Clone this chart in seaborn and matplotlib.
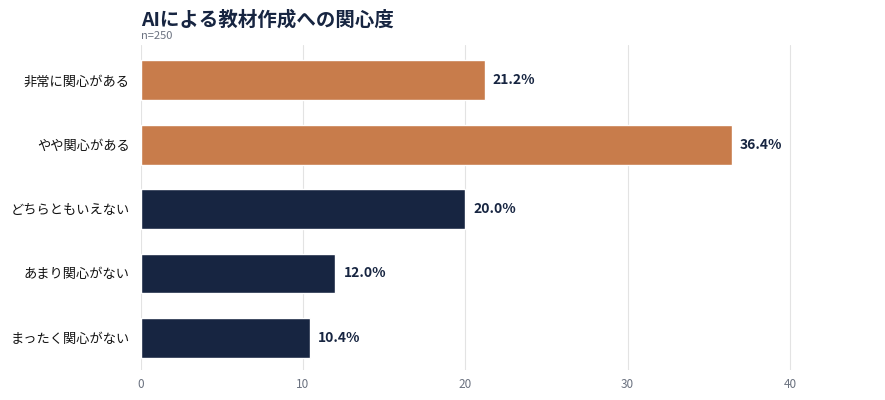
import pandas as pd
import matplotlib.pyplot as plt
import seaborn as sns

categories = ['非常に関心がある', 'やや関心がある', 'どちらともいえない', 'あまり関心がない', 'まったく関心がない']
values = [21.2, 36.4, 20.0, 12.0, 10.4]
bar_colors = ['#C87C4B', '#C87C4B', '#172541', '#172541', '#172541']

dati = pd.DataFrame({'category': categories, 'value': values})

sns.set_theme(style='white')
plt.rcParams['font.family'] = ['Noto Sans CJK JP', 'DejaVu Sans']

fig = plt.figure(figsize=(8.85, 4), dpi=100)
ax = fig.add_axes([0.159, 0.075, 0.818, 0.8125])

sns.barplot(data=dati, x='value', y='category', hue='category', palette=bar_colors,
            legend=False, width=0.62, saturation=1, ax=ax, zorder=3)

# etichette sulle barre
for i, v in enumerate(values):
    ax.text(v + 0.5, i, f'{v:.1f}%', va='center', ha='left', fontsize=10,
            fontweight='bold', color='#172541')

ax.set_xlim(0, 44.6)
ax.set_ylim(4.5, -0.55)
ax.set_xticks([0, 10, 20, 30, 40])
ax.grid(axis='x', color='#E3E3E3', linewidth=0.8, zorder=0)
ax.set_axisbelow(True)
for s in ax.spines.values():
    s.set_visible(False)
ax.set_xlabel('')
ax.set_ylabel('')
ax.tick_params(axis='y', labelsize=9.5, labelcolor='#111111', length=0, pad=8)
ax.tick_params(axis='x', labelsize=8.5, labelcolor='#6B7280', length=0, pad=6)

fig.text(0.159, 0.925, 'AIによる教材作成への関心度', fontsize=14, fontweight='bold',
         color='#172541', ha='left', va='bottom')
fig.text(0.159, 0.898, 'n=250', fontsize=8, color='#6B7280', ha='left', va='bottom')

fig.savefig('out.png', dpi=100)
